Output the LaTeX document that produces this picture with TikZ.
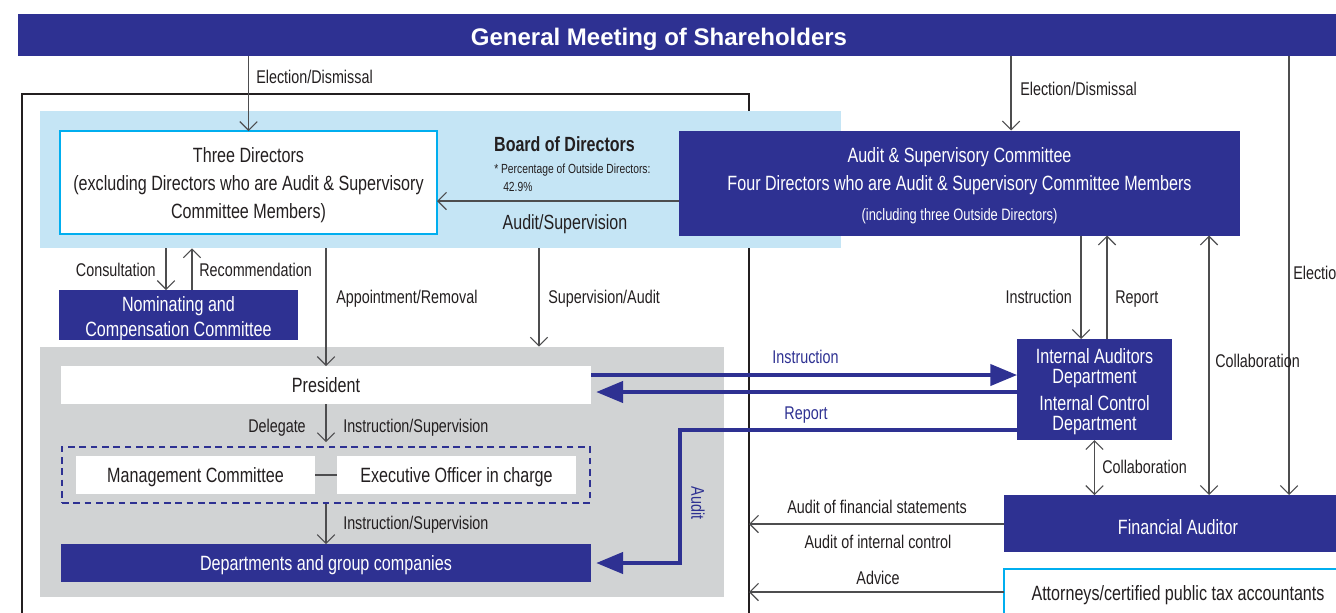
\documentclass[tikz,border=0pt]{standalone}
\usepackage{fontspec}
\setmainfont{Liberation Sans}[FakeStretch=0.78]
\newfontfamily\titlefont{Liberation Sans}
\usetikzlibrary{arrows.meta}
\definecolor{navy}{HTML}{2E3192}
\definecolor{lblue}{HTML}{C5E5F5}
\definecolor{lgray}{HTML}{D1D3D4}
\definecolor{cyanb}{HTML}{00AEEF}
\definecolor{txt}{HTML}{231F20}
\definecolor{ln}{HTML}{4D4D4F}
\begin{document}
\begin{tikzpicture}[x=0.75pt,y=-0.75pt,
  wh/.style 2 args={minimum width=#1*0.75pt, minimum height=#2*0.75pt},
  box/.style={inner sep=0pt, outer sep=0pt, align=center, font=\fontsize{15.5}{20}\selectfont},
  navybox/.style={box, fill=navy, text=white},
  whitebox/.style={box, fill=white, text=txt},
  one/.style={text height=11.1pt, text depth=0pt},
  btext/.style={inner sep=0pt, align=center},
  lab/.style={inner sep=0pt, text=txt, font=\fontsize{13.8}{16}\selectfont, text height=9.9pt, text depth=0pt},
  bluelab/.style={lab, text=navy},
  conn/.style={draw=ln, line width=0.8pt},
  arr/.style={-{Straight Barb[length=6.5pt,width=13pt]}},
  arrtwo/.style={{Straight Barb[length=6.5pt,width=13pt]}-{Straight Barb[length=6.5pt,width=13pt]}},
  blarr/.style={draw=navy, line width=2.3pt, -{Triangle[length=20pt,width=16pt]}}
]
\useasboundingbox (0,0) rectangle (1336,612);
\clip (0,0) rectangle (1336,612);

% helper coordinates
\coordinate (fr) at (749,94);
\coordinate (xE2) at (1011,0);
\coordinate (xE3) at (1289,0);
\coordinate (yAS) at (0,201);
\coordinate (xCon) at (166,0);
\coordinate (xRec) at (192,0);
\coordinate (xSA) at (539,0);
\coordinate (xI) at (1081,0);
\coordinate (xR) at (1107,0);
\coordinate (xC) at (1209,0);
\coordinate (yI) at (0,375);
\coordinate (yR) at (0,392);
\coordinate (yA) at (0,430);
\coordinate (xAud) at (680,0);
\coordinate (yF) at (0,524);
\coordinate (yAd) at (0,592);

% top bar
\node[navybox, wh={1400}{42}] (gms) at (718,35) {};
\node[inner sep=0pt, text=white, font=\titlefont\fontsize{18}{20}\selectfont\bfseries, text height=13pt, text depth=0pt] (gmst) at (659,37) {General Meeting of Shareholders};

% outer frame
\draw[txt, line width=0.8pt] (22,700) -- (22,94) -- (fr) -- (749,700);

% board area
\node[fill=lblue, inner sep=0pt, wh={801}{137}] (bod) at (440.5,179.5) {};
\node[whitebox, draw=cyanb, line width=1.3pt, wh={377}{103}] (td) at (248.5,182.5) {};
\node[btext, text=txt, font=\fontsize{15.5}{21}\selectfont] (tdt) at (248.5,185.5)
  {Three Directors\\(excluding Directors who are Audit \& Supervisory\\Committee Members)};
\node[lab, font=\fontsize{15.4}{17}\selectfont\bfseries, text height=11pt] (bodt) at (564.5,144) {Board of Directors};
\node[lab, anchor=west, font=\fontsize{9.9}{11}\selectfont, text height=7.1pt] (pct) at (494,169) {* Percentage of Outside Directors:};
\node[lab, anchor=west, font=\fontsize{9.9}{11}\selectfont, text height=7.1pt] (pctv) at (503,187) {42.9\%};

\node[navybox, wh={561}{105}] (acom) at (959.5,183) {};
\node[btext, text=white, font=\fontsize{15.5}{21}\selectfont] (acomt) at (959.5,186)
  {Audit \& Supervisory Committee\\Four Directors who are Audit \& Supervisory Committee Members\\[1.5pt]{\fontsize{12.4}{14}\selectfont (including three Outside Directors)}};

\node[navybox, wh={239}{50}] (nc) at (178.5,315) {};
\node[btext, text=white, font=\fontsize{15.5}{18.75}\selectfont] (nct) at (178.5,318.5) {Nominating and\\Compensation Committee};

% executive area
\node[fill=lgray, inner sep=0pt, wh={684}{250}] (exec) at (382,472) {};
\node[whitebox, one, wh={530}{38}] (pres) at (326,385) {President};
\node[draw=navy, line width=1.2pt, dash pattern=on 5pt off 3.5pt, inner sep=0pt, wh={528}{56}] (mgmt) at (326,475) {};
\node[whitebox, one, wh={239}{38}] (mc) at (195.5,475) {Management Committee};
\node[whitebox, one, wh={239}{38}] (eo) at (456.5,475) {Executive Officer in charge};
\node[navybox, one, wh={530}{38}] (dept) at (326,563) {Departments and group companies};

% right side
\node[navybox, wh={155}{101}] (ia) at (1094.5,389.5) {};
\node[btext, text=white, font=\fontsize{15.5}{15}\selectfont] (iat) at (1094.5,391.5)
  {Internal Auditors\\Department\\[5.5pt]Internal Control\\Department};
\node[navybox, one, text height=16.3pt, wh={348}{57}] (fa) at (1178,523.5) {Financial Auditor};
\node[whitebox, one, draw=cyanb, line width=1.3pt, wh={348}{48}] (att) at (1178,593) {Attorneys/certified public tax accountants};

% connectors
\draw[conn, arr] (gms.south -| td.north) -- (td.north);
\draw[conn, arr] (gms.south -| xE2) -- (acom.north -| xE2);
\draw[conn, arr] (gms.south -| xE3) -- (fa.north -| xE3);
\draw[conn, arr] (acom.west |- yAS) -- (td.east |- yAS);
\draw[conn, arr] (bod.south -| xCon) -- (nc.north -| xCon);
\draw[conn, arr] (nc.north -| xRec) -- (bod.south -| xRec);
\draw[conn, arr] (bod.south -| pres.north) -- (pres.north);
\draw[conn, arr] (bod.south -| xSA) -- (exec.north -| xSA);
\draw[conn, arr, shorten >=3pt] (pres.south) -- (mgmt.north);
\draw[conn, arr] (mgmt.south) -- (dept.north);
\draw[conn] (mc.east) -- (eo.west);
\draw[conn, arr] (acom.south -| xI) -- (ia.north -| xI);
\draw[conn, arr] (ia.north -| xR) -- (acom.south -| xR);
\draw[conn, arrtwo] (acom.south -| xC) -- (fa.north -| xC);
\draw[conn, arrtwo] (ia.south) -- (fa.north -| ia.south);
\draw[conn, arr] (fa.west |- yF) -- (fr |- yF);
\draw[conn, arr] (att.west |- yAd) -- (fr |- yAd);

\draw[blarr] (pres.east |- yI) -- (ia.west |- yI);
\draw[blarr, shorten >=4pt] (ia.west |- yR) -- (pres.east |- yR);
\draw[blarr, shorten >=4pt, line join=miter] (ia.west |- yA) -- (xAud |- yA) -- (xAud |- dept.east) -- (dept.east);

% labels
\node[lab, anchor=west] (l1) at (256,77) {Election/Dismissal};
\node[lab, anchor=west] (l2) at (1020,89) {Election/Dismissal};
\node[lab, anchor=west] (l3) at (1293,273) {Election/Dismissal};
\node[lab, font=\fontsize{15.4}{17}\selectfont, text height=11pt] (l4) at (565,222) {Audit/Supervision};
\node[lab, anchor=east] (l5) at (156,270) {Consultation};
\node[lab, anchor=west] (l6) at (199,270) {Recommendation};
\node[lab, anchor=west] (l7) at (336,297) {Appointment/Removal};
\node[lab, anchor=west] (l8) at (548,297) {Supervision/Audit};
\node[lab, anchor=east] (l9) at (1072,297) {Instruction};
\node[lab, anchor=west] (l10) at (1115,297) {Report};
\node[lab, anchor=west] (l11) at (1215,361) {Collaboration};
\node[bluelab] (l12) at (805.5,357) {Instruction};
\node[bluelab] (l13) at (806,413) {Report};
\node[lab, anchor=east] (l14) at (306,426) {Delegate};
\node[lab, anchor=west] (l15) at (343,426) {Instruction/Supervision};
\node[lab, anchor=west] (l16) at (343,523) {Instruction/Supervision};
\node[lab, anchor=west] (l17) at (1102,467) {Collaboration};
\node[lab] (l18) at (877,507) {Audit of financial statements};
\node[lab] (l19) at (878,542) {Audit of internal control};
\node[lab] (l20) at (878,578) {Advice};
\node[bluelab, rotate=-90] (l21) at (698,503) {Audit};
\end{tikzpicture}
\end{document}
